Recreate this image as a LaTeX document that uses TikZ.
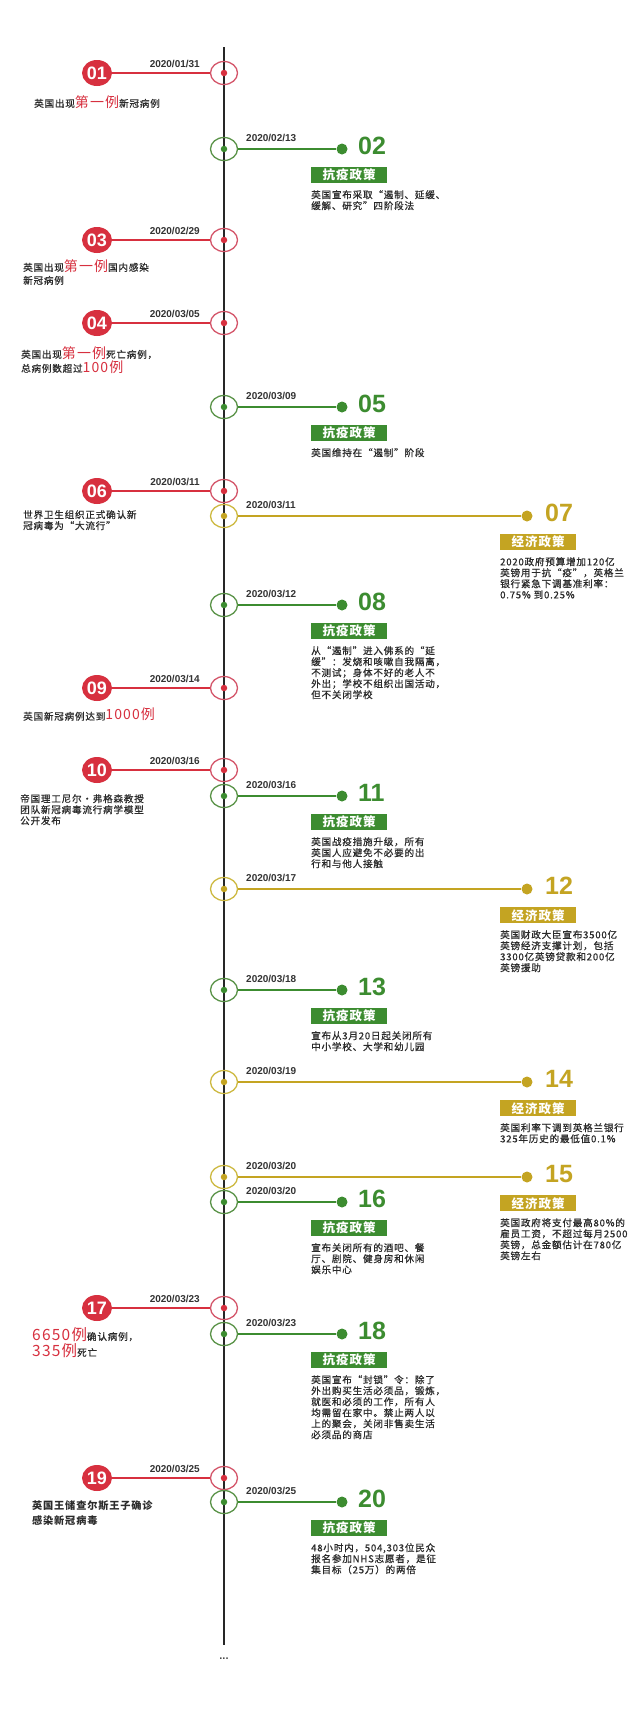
\documentclass[tikz,border=0pt]{standalone}
\usepackage{fontspec}
\setmainfont{Liberation Sans}
\newfontfamily\cjk[LetterSpace=8]{Noto Sans CJK SC}
\newfontfamily\cjkm[LetterSpace=8,FakeBold=0.6]{Noto Sans CJK SC}
\usetikzlibrary{shapes.geometric}
\definecolor{cR}{HTML}{D7303F}
\definecolor{cRring}{HTML}{D4566A}
\definecolor{cG}{HTML}{3C8C30}
\definecolor{cGring}{HTML}{5A9348}
\definecolor{cY}{HTML}{C4A422}
\definecolor{cYring}{HTML}{CDB941}
\definecolor{txt}{HTML}{2A2A2A}
\definecolor{datec}{HTML}{333333}
\newcommand\hl[1]{{\color{cR}\cjk\fontsize{14}{14}\selectfont #1}}
\newcommand\hlb[1]{{\color{cR}\cjk\fontsize{15.5}{15.5}\selectfont #1}}
\tikzset{
 ring/.style={ellipse, draw, line width=1.3pt, minimum width=27pt, minimum height=23pt, inner sep=0},
 ringR/.style={ring, draw=cRring},
 ringG/.style={ring, draw=cGring},
 ringY/.style={ring, draw=cYring},
 cdot/.style={circle, inner sep=0, minimum size=6.5pt},
 dotR/.style={cdot, fill=cR},
 dotG/.style={cdot, fill=cG},
 dotY/.style={cdot, fill=cY},
 edot/.style={circle, inner sep=0, minimum size=11pt},
 conn/.style={line width=2pt},
 badge/.style={ellipse, fill=cR, text=white, minimum width=30pt, minimum height=26pt, inner sep=0, font=\fontsize{18}{18}\selectfont\bfseries},
 datelab/.style={inner sep=0, text=datec, font=\fontsize{10}{10}\selectfont\bfseries},
 num/.style={anchor=west, inner sep=0, font=\fontsize{25}{25}\selectfont\bfseries},
 tag/.style={anchor=north west, inner sep=0, minimum width=76pt, minimum height=16pt, text=white, font=\cjk\fontsize{12.5}{13}\selectfont\bfseries},
 body/.style={anchor=north west, inner sep=0, align=left, text=txt, font=\cjkm\fontsize{9.6}{11}\selectfont},
 ltext/.style={anchor=north west, inner sep=0, align=left, text=txt, font=\cjkm\fontsize{9.6}{11}\selectfont},
}
\newcommand\EvR[3]{%
 \node[ringR] (r#1) at (224,#2) {};
 \node[dotR] (d#1) at (224,#2) {};
 \node[badge] (b#1) at (97,#2) {#1};
 \draw[conn,cR] (b#1) -- (r#1);
 \node[datelab,anchor=base east] (t#1) at (200,#2-5.4) {#3};
}
\newcommand\EvG[4]{%
 \node[ringG] (r#1) at (224,#2) {};
 \node[dotG] (d#1) at (224,#2) {};
 \node[edot,fill=cG] (e#1) at (342,#2) {};
 \draw[conn,cG] (r#1) -- (e#1);
 \node[datelab,anchor=base west] (t#1) at (246,#2-7.4) {#3};
 \node[num,text=cG] (n#1) at (358,#2-3) {#1};
 \node[tag,fill=cG] (k#1) at (311,#2+18) {抗疫政策};
 \node[body] (x#1) at (311,#2+41) {#4};
}
\newcommand\EvY[4]{%
 \node[ringY] (r#1) at (224,#2) {};
 \node[dotY] (d#1) at (224,#2) {};
 \node[edot,fill=cY] (e#1) at (527,#2) {};
 \draw[conn,cY] (r#1) -- (e#1);
 \node[datelab,anchor=base west] (t#1) at (246,#2-7.4) {#3};
 \node[num,text=cY] (n#1) at (545,#2-3) {#1};
 \node[tag,fill=cY] (k#1) at (500,#2+18) {经济政策};
 \node[body] (x#1) at (500,#2+41) {#4};
}
\begin{document}
\begin{tikzpicture}[x=1pt,y=-1pt]
\fill[white] (0,0) rectangle (640,1717);
\useasboundingbox (0,0) rectangle (640,1717);
\coordinate (top) at (224,47);
\coordinate (bot) at (224,1645);
\draw[line width=1.4pt, black!85] (top) -- (bot);
\node[inner sep=0, text=black!70, font=\fontsize{11}{11}\selectfont\bfseries] (more) at (224,1659) {...};

\EvR{01}{73}{2020/01/31}
\node[ltext] (x01) at (34,95) {英国出现\hl{第一例}新冠病例};

\EvG{02}{149}{2020/02/13}{英国宣布采取“遏制、延缓、\\缓解、研究”四阶段法}

\EvR{03}{240}{2020/02/29}
\node[ltext, font=\cjkm\fontsize{9.6}{13}\selectfont] (x03) at (23,259) {英国出现\hl{第一例}国内感染\\新冠病例};

\EvR{04}{323}{2020/03/05}
\node[ltext, font=\cjkm\fontsize{9.6}{14}\selectfont] (x04) at (21,346) {英国出现\hl{第一例}死亡病例，\\总病例数超过\hl{100例}};

\EvG{05}{407}{2020/03/09}{英国维持在“遏制”阶段}

\EvR{06}{491}{2020/03/11}
\node[ltext] (x06) at (23,510) {世界卫生组织正式确认新\\冠病毒为“大流行”};

\EvY{07}{516}{2020/03/11}{2020政府预算增加120亿\\英镑用于抗“疫”，英格兰\\银行紧急下调基准利率：\\0.75\% 到0.25\%}

\EvG{08}{605}{2020/03/12}{从“遏制”进入佛系的“延\\缓”：发烧和咳嗽自我隔离，\\不测试；身体不好的老人不\\外出；学校不组织出国活动，\\但不关闭学校}

\EvR{09}{688}{2020/03/14}
\node[ltext] (x09) at (23,708) {英国新冠病例达到\hl{1000例}};

\EvR{10}{770}{2020/03/16}
\node[ltext] (x10) at (20,794) {帝国理工尼尔·弗格森教授\\团队新冠病毒流行病学模型\\公开发布};

\EvG{11}{796}{2020/03/16}{英国战疫措施升级，所有\\英国人应避免不必要的出\\行和与他人接触}

\EvY{12}{889}{2020/03/17}{英国财政大臣宣布3500亿\\英镑经济支撑计划，包括\\3300亿英镑贷款和200亿\\英镑援助}

\EvG{13}{990}{2020/03/18}{宣布从3月20日起关闭所有\\中小学校、大学和幼儿园}

\EvY{14}{1082}{2020/03/19}{英国利率下调到英格兰银行\\325年历史的最低值0.1\%}

\EvY{15}{1177}{2020/03/20}{英国政府将支付最高80\%的\\雇员工资，不超过每月2500\\英镑，总金额估计在780亿\\英镑左右}

\EvG{16}{1202}{2020/03/20}{宣布关闭所有的酒吧、餐\\厅、剧院、健身房和休闲\\娱乐中心}

\EvR{17}{1308}{2020/03/23}
\node[ltext, font=\cjkm\fontsize{9.6}{16}\selectfont] (x17) at (32,1327) {\hlb{6650例}确认病例，\\\hlb{335例}死亡};

\EvG{18}{1334}{2020/03/23}{英国宣布“封锁”令：除了\\外出购买生活必须品，锻炼，\\就医和必须的工作，所有人\\均需留在家中。禁止两人以\\上的聚会，关闭非售卖生活\\必须品的商店}

\EvR{19}{1478}{2020/03/25}
\node[ltext, font=\cjk\fontsize{10.2}{15.5}\selectfont\bfseries] (x19) at (32,1500) {英国王储查尔斯王子确诊\\感染新冠病毒};

\EvG{20}{1502}{2020/03/25}{48小时内，504,303位民众\\报名参加NHS志愿者，是征\\集目标（25万）的两倍}
\end{tikzpicture}
\end{document}
